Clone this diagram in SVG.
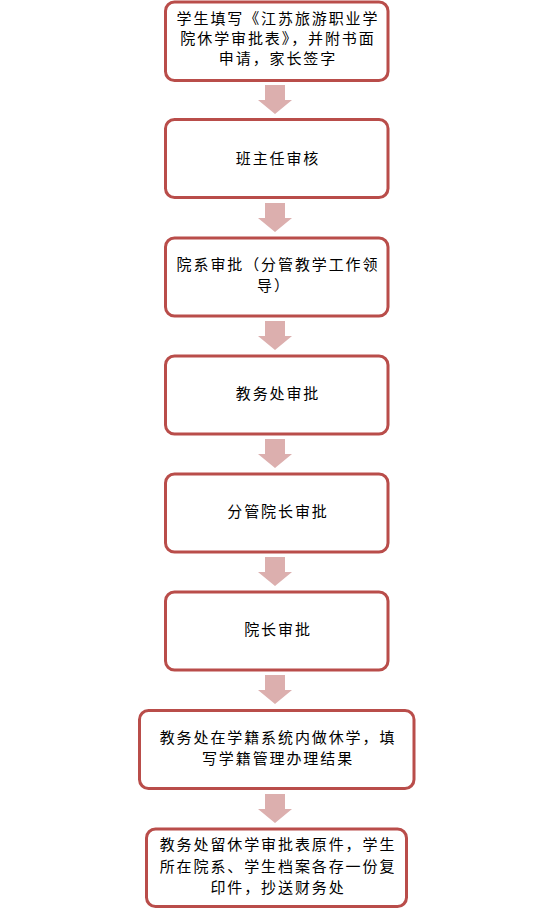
<svg xmlns="http://www.w3.org/2000/svg" width="553" height="910" viewBox="0 0 553 910">
<defs>
<style>
.box{fill:#ffffff;stroke:#b94d4a;stroke-width:3}
.arr{fill:#dcafae;stroke:none}
text{font-family:"Noto Sans CJK SC","Liberation Sans",sans-serif;font-size:15px;letter-spacing:1.9px;text-anchor:middle;fill:#000000}
</style>
<path id="ah" d="M-10,0 H10 V15 H17 L0,29 L-17,15 H-10 Z"/>
</defs>
<g id="connectors">
<use href="#ah" class="arr" x="275" y="85"/>
<use href="#ah" class="arr" x="275" y="203"/>
<use href="#ah" class="arr" x="275" y="321"/>
<use href="#ah" class="arr" x="275" y="439"/>
<use href="#ah" class="arr" x="275" y="557"/>
<use href="#ah" class="arr" x="275" y="675"/>
<use href="#ah" class="arr" x="275" y="794"/>
</g>
<g id="n1">
<rect class="box" x="165.5" y="2" width="222.5" height="78.5" rx="9"/>
<text x="278" y="24">学生填写《江苏旅游职业学</text>
<text x="278" y="44">院休学审批表》，并附书面</text>
<text x="278" y="64">申请，家长签字</text>
</g>
<g id="n2">
<rect class="box" x="165.5" y="119.5" width="222.5" height="78" rx="9"/>
<text x="278" y="164">班主任审核</text>
</g>
<g id="n3">
<rect class="box" x="165.5" y="238" width="222.5" height="78" rx="9"/>
<text x="278" y="270">院系审批（分管教学工作领</text>
<text x="274" y="290.5">导）</text>
</g>
<g id="n4">
<rect class="box" x="165.5" y="356" width="222.5" height="78" rx="9"/>
<text x="278" y="399">教务处审批</text>
</g>
<g id="n5">
<rect class="box" x="165.5" y="474" width="222.5" height="78" rx="9"/>
<text x="278" y="517">分管院长审批</text>
</g>
<g id="n6">
<rect class="box" x="165.5" y="592" width="222.5" height="78" rx="9"/>
<text x="278" y="635">院长审批</text>
</g>
<g id="n7">
<rect class="box" x="139.5" y="710.5" width="274.5" height="78" rx="9"/>
<text x="278" y="743">教务处在学籍系统内做休学，填</text>
<text x="278" y="764">写学籍管理办理结果</text>
</g>
<g id="n8">
<rect class="box" x="146.5" y="829" width="260" height="77.5" rx="9"/>
<text x="278" y="850">教务处留休学审批表原件，学生</text>
<text x="278" y="871.5">所在院系、学生档案各存一份复</text>
<text x="278" y="893">印件，抄送财务处</text>
</g>
</svg>
